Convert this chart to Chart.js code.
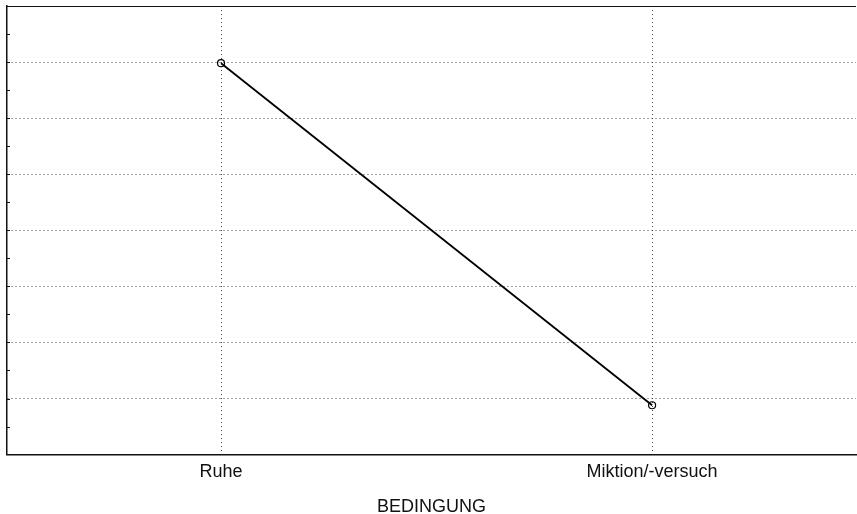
<!DOCTYPE html>
<html>
<head>
<meta charset="utf-8">
<script src="https://cdn.jsdelivr.net/npm/chart.js@4/dist/chart.umd.min.js"></script>
<style>
  html, body { margin: 0; padding: 0; background: #fff; }
  #wrap { width: 857px; height: 514px; }
</style>
</head>
<body>
<div id="wrap"><canvas id="c"></canvas></div>
<script>
// conditions on the x axis
const categories = ['Ruhe', 'Miktion/-versuch'];
// mean value per condition (unitless)
const values = [6.98, 0.88];
const yMin = 0, yMax = 8;
const xTitle = 'BEDINGUNG';

const points = categories.map((c, i) => ({ x: i, y: values[i] }));

// the point markers would otherwise force ~5px of extra padding on every side
Chart.registry.getController('line').prototype.getMaxOverflow = function () { return 0; };

// top frame line + small inner ticks on the left axis
const frame = {
    id: 'frame',
    afterDraw(chart) {
        const { ctx, chartArea } = chart;
        const y = chart.scales.y;
        ctx.save();
        ctx.strokeStyle = '#111';
        ctx.lineWidth = 1.2;
        ctx.beginPath();
        ctx.moveTo(chartArea.left, chartArea.top + 0.5);
        ctx.lineTo(chartArea.right, chartArea.top + 0.5);
        ctx.stroke();
        ctx.lineWidth = 1;
        for (let v = yMin + 0.5; v < yMax; v += 0.5) {
            const py = Math.round(y.getPixelForValue(v)) + 0.5;
            ctx.beginPath();
            ctx.moveTo(chartArea.left, py);
            ctx.lineTo(chartArea.left + 3, py);
            ctx.stroke();
        }
        ctx.restore();
    }
};

const chart = new Chart(document.getElementById('c'), {
    type: 'line',
    data: {
        datasets: [{
            data: points,
            borderColor: '#000',
            borderWidth: 1.8,
            pointRadius: 3.5,
            pointBorderWidth: 1.2,
            pointBackgroundColor: 'rgba(0,0,0,0)',
            pointBorderColor: '#000',
            tension: 0
        }]
    },
    options: {
        responsive: true,
        maintainAspectRatio: false,
        animation: false,
        layout: { padding: { left: 7, top: 6, right: 1, bottom: -4.3 } },
        plugins: {
            legend: { display: false },
            tooltip: { enabled: false }
        },
        scales: {
            x: {
                type: 'linear',
                min: -0.4965,
                max: 1.473,
                afterBuildTicks: (s) => { s.ticks = categories.map((c, i) => ({ value: i })); },
                ticks: {
                    callback: (v) => categories[v],
                    color: '#111',
                    font: { family: 'Liberation Sans', size: 18 },
                    padding: 7,
                    maxRotation: 0
                },
                grid: {
                    color: '#444',
                    lineWidth: 1,
                    drawTicks: false
                },
                border: { color: '#111', width: 1.5, dash: [1, 3] },
                title: {
                    display: true,
                    text: xTitle,
                    color: '#111',
                    font: { family: 'Liberation Sans', size: 18 },
                    padding: { top: 6.5, bottom: 0 }
                }
            },
            y: {
                min: yMin,
                max: yMax,
                ticks: { display: false, stepSize: 1 },
                grid: { color: '#444', lineWidth: 1, drawTicks: false },
                border: { color: '#111', width: 1.5, dash: [1, 3] }
            }
        }
    },
    plugins: [frame]
});
</script>
</body>
</html>
